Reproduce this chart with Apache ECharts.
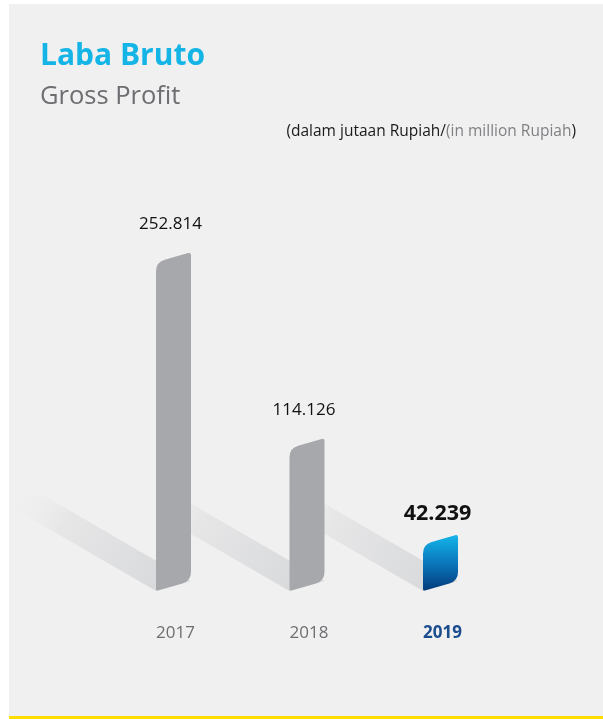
<!DOCTYPE html>
<html>
<head>
<meta charset="utf-8">
<script src="https://cdn.jsdelivr.net/npm/echarts@6/dist/echarts.min.js"></script>
<style>
  html, body { margin: 0; padding: 0; background: #ffffff; }
  #chart { width: 603px; height: 719px; }
</style>
</head>
<body>
<div id="chart"></div>
<script>
// Gross profit, in million Rupiah
const years = ['2017', '2018', '2019'];
const grossProfit = [252814, 114126, 42239];
const currentYear = '2019';

const FONT = '"Open Sans", Roboto, sans-serif';
const AXIS_MIN = 7500;
const AXIS_MAX = 300000;
const BAR_W = 35;         // bar width in px
const SKEW = 10;          // right side of each bar sits this much higher
const FLOOR_SLOPE = 0.58; // direction of the floor ribbon behind each bar
const RIBBON_LEN = 150;

function fmt(v) {
  return String(v).replace(/\B(?=(\d{3})+(?!\d))/g, '.');
}

// Closed path through the given corners, each corner rounded by its own radius
function roundedPath(pts, radii) {
  const n = pts.length;
  let d = '';
  for (let i = 0; i < n; i++) {
    const p = pts[i], prev = pts[(i - 1 + n) % n], next = pts[(i + 1) % n];
    const r = radii[i];
    const d1 = Math.hypot(prev[0] - p[0], prev[1] - p[1]);
    const d2 = Math.hypot(next[0] - p[0], next[1] - p[1]);
    const a = [p[0] + (prev[0] - p[0]) * r / d1, p[1] + (prev[1] - p[1]) * r / d1];
    const b = [p[0] + (next[0] - p[0]) * r / d2, p[1] + (next[1] - p[1]) * r / d2];
    d += (i === 0 ? 'M' : 'L') + a[0].toFixed(2) + ' ' + a[1].toFixed(2) +
      ' Q' + p[0].toFixed(2) + ' ' + p[1].toFixed(2) + ' ' + b[0].toFixed(2) + ' ' + b[1].toFixed(2) + ' ';
  }
  return d + 'Z';
}

function barGeom(api) {
  const idx = api.value(0);
  const base = api.coord([idx, AXIS_MIN]);
  const top = api.coord([idx, api.value(1)]);
  const cx = base[0];
  return { idx, cx, xl: cx - BAR_W / 2, xr: cx + BAR_W / 2, yb: base[1], yt: top[1] };
}

const seriesData = grossProfit.map((v, i) => [i, v]);

const chart = echarts.init(document.getElementById('chart'), null, { renderer: 'canvas' });

chart.setOption({
  backgroundColor: '#ffffff',
  animation: false,
  graphic: [
    { type: 'rect', z: -10, silent: true, shape: { x: 9, y: 4, width: 594, height: 712 }, style: { fill: '#f0f0f0' } },
    { type: 'rect', z: -10, silent: true, shape: { x: 9, y: 716, width: 594, height: 3 }, style: { fill: '#ffdd00' } }
  ],
  title: [
    {
      text: 'Laba Bruto', left: 35, top: 36,
      textStyle: { fontFamily: FONT, fontSize: 30, fontWeight: 'bold', color: '#14b5e6' }
    },
    {
      text: 'Gross Profit', left: 35, top: 79,
      textStyle: { fontFamily: FONT, fontSize: 25.5, fontWeight: 'normal', color: '#6d6e71' }
    },
    {
      text: '{a|(dalam jutaan Rupiah/}{b|(in million Rupiah}{a|)}',
      right: 22, top: 119,
      textStyle: {
        fontWeight: 'normal',
        rich: {
          a: { fontFamily: FONT, fontSize: 15.5, fontWeight: 'normal', color: '#1a1a1a' },
          b: { fontFamily: FONT, fontSize: 15.5, fontWeight: 'normal', color: '#808184' }
        }
      }
    }
  ],
  grid: { left: 106.75, right: 95.75, top: 199, bottom: 128 },
  xAxis: {
    type: 'category',
    data: years,
    axisLine: { show: false },
    axisTick: { show: false },
    axisLabel: {
      margin: 34,
      padding: [0, 0, 0, 4],
      formatter: (v) => (v === currentYear ? '{hl|' + v + '}' : '{n|' + v + '}'),
      rich: {
        n: { fontFamily: FONT, fontSize: 17, color: '#6d6e71' },
        hl: { fontFamily: FONT, fontSize: 17, fontWeight: 'bold', color: '#1b4d8e' }
      }
    }
  },
  yAxis: { type: 'value', min: AXIS_MIN, max: AXIS_MAX, show: false },
  series: [
    {
      // fading floor ribbons running back from the foot of each bar
      type: 'custom',
      z: 1,
      silent: true,
      data: seriesData,
      encode: { x: 0, y: 1 },
      renderItem: (params, api) => {
        const g = barGeom(api);
        const dx = RIBBON_LEN, dy = RIBBON_LEN * FLOOR_SLOPE;
        return {
          type: 'polygon',
          shape: {
            points: [
              [g.xl, g.yb], [g.xr, g.yb - SKEW],
              [g.xr - dx, g.yb - SKEW - dy], [g.xl - dx, g.yb - dy]
            ]
          },
          style: {
            fill: {
              type: 'linear', global: true,
              x: g.xl, y: g.yb, x2: g.xl - dx, y2: g.yb - dy,
              colorStops: [
                { offset: 0, color: '#d9dadc' },
                { offset: 0.65, color: '#e6e6e7' },
                { offset: 1, color: 'rgba(240,240,240,0)' }
              ]
            }
          }
        };
      }
    },
    {
      // slanted, rounded bars with value labels
      type: 'custom',
      z: 2,
      data: seriesData,
      encode: { x: 0, y: 1 },
      renderItem: (params, api) => {
        const g = barGeom(api);
        const isCurrent = years[g.idx] === currentYear;
        const pts = [[g.xl, g.yt], [g.xr, g.yt - SKEW], [g.xr, g.yb - SKEW], [g.xl, g.yb]];
        const fill = isCurrent ? {
          type: 'linear', global: true,
          x: 0, y: g.yt - SKEW, x2: 0, y2: g.yb,
          colorStops: [
            { offset: 0, color: '#14b6ea' },
            { offset: 0.5, color: '#0a78bd' },
            { offset: 1, color: '#03397a' }
          ]
        } : '#a7a8ab';
        return {
          type: 'group',
          children: [
            {
              type: 'path',
              shape: { pathData: roundedPath(pts, [9, 3, 9, 2]) },
              style: { fill: fill }
            },
            {
              type: 'text',
              style: {
                text: fmt(api.value(1)),
                x: g.cx - 3,
                y: g.yt - (isCurrent ? 31 : 38),
                align: 'center',
                verticalAlign: 'middle',
                fontFamily: FONT,
                fontSize: isCurrent ? 21.5 : 17,
                fontWeight: isCurrent ? 'bold' : 'normal',
                fill: '#111111'
              }
            }
          ]
        };
      }
    }
  ]
});
</script>
</body>
</html>
